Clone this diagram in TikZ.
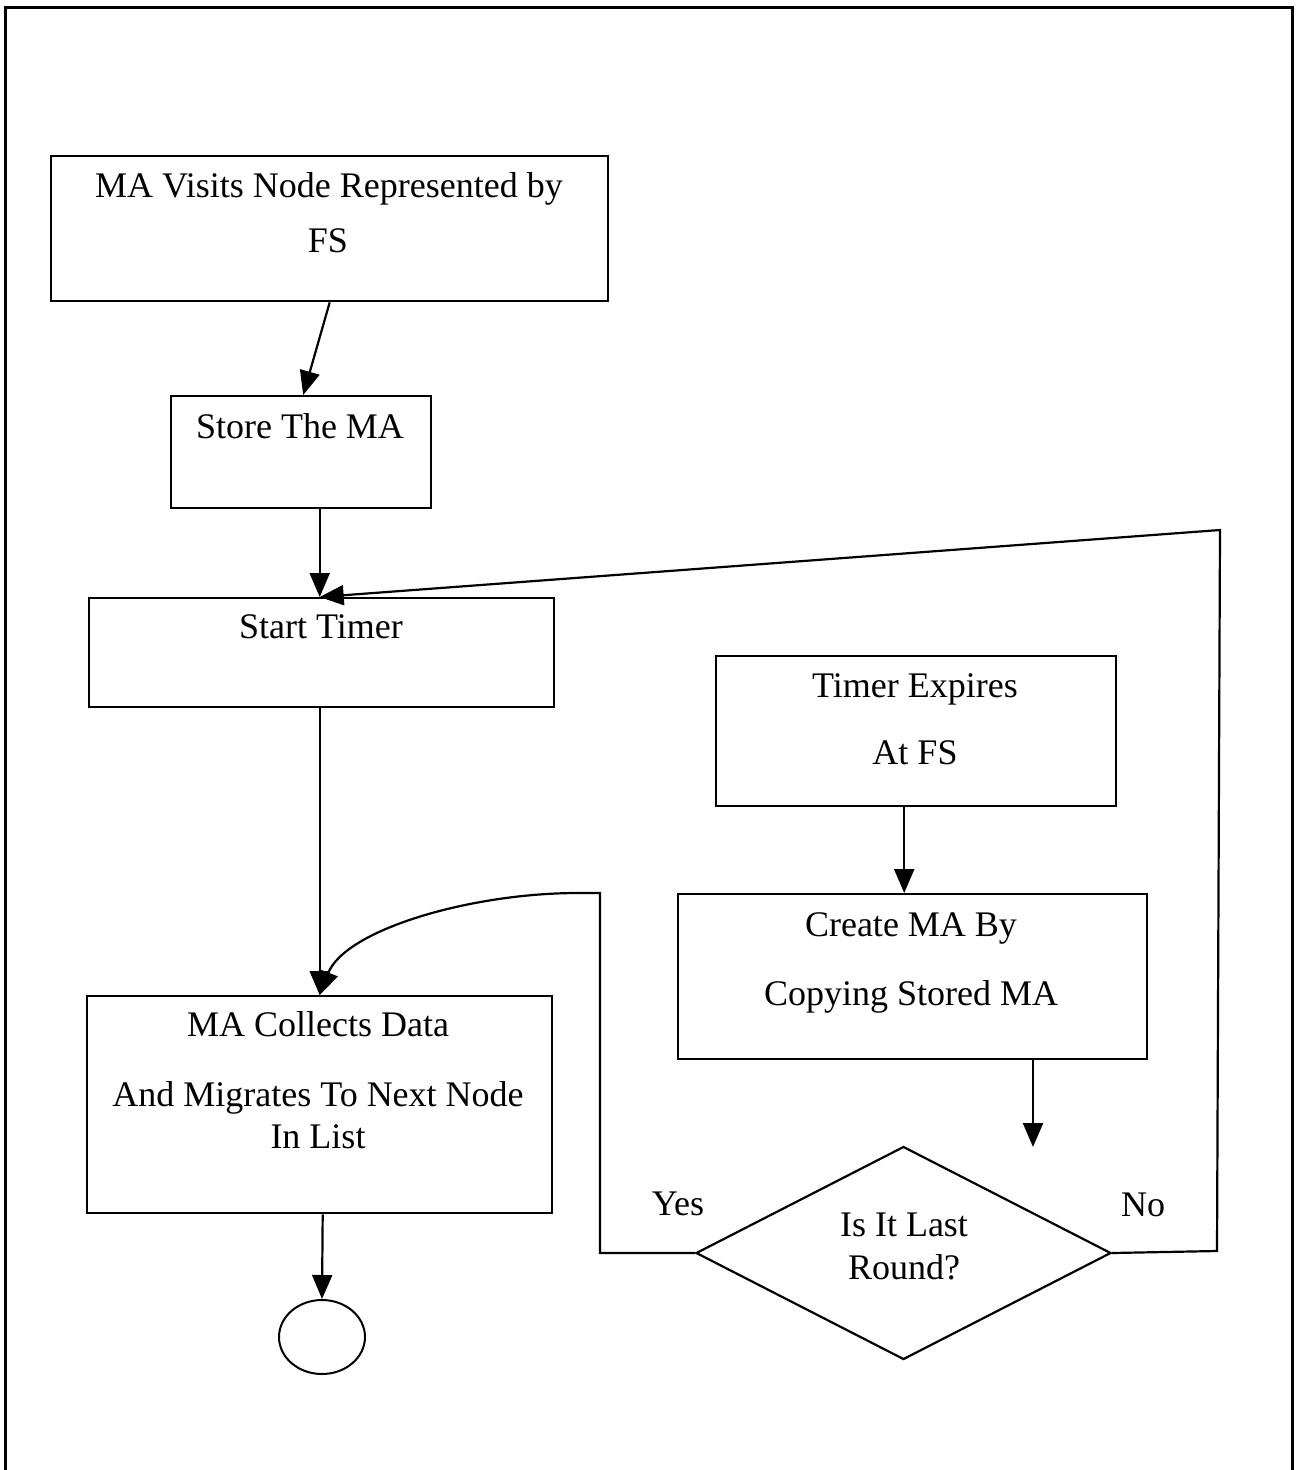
\documentclass[tikz,border=0pt]{standalone}
\usepackage{fontspec}
\setmainfont{Liberation Serif}
\usetikzlibrary{arrows.meta,shapes.geometric,calc}
\begin{document}
\begin{tikzpicture}[x=1pt,y=-1pt,
  every node/.style={font=\fontsize{36}{40}\selectfont},
  frameline/.style={line width=3pt},
  box/.style={draw,line width=2.4pt,rectangle,inner sep=0pt,anchor=north west},
  txt/.style={anchor=base,inner sep=0pt},
  link/.style={line width=2.2pt},
  arr/.style={link,-{Triangle[length=24pt,width=20pt]}},
]
\useasboundingbox (0,0) rectangle (1297,1470);
% page frame, open at the bottom
\draw[frameline] (5,1470) -- (5,7) -- (1292,7) -- (1292,1470);

% boxes
\node[box,minimum width=557,minimum height=145] (b1) at (50,155) {};
\node[box,minimum width=260,minimum height=112] (b2) at (170,395) {};
\node[box,minimum width=465,minimum height=109] (b3) at (88,597) {};
\node[box,minimum width=465,minimum height=217] (b4) at (86,995) {};
\node[box,minimum width=400,minimum height=150] (b5) at (715,655) {};
\node[box,minimum width=469,minimum height=165] (b6) at (677,893) {};
\node[draw,line width=2.2pt,diamond,inner sep=0pt,minimum width=415,minimum height=213,aspect=1.95] (dia) at (903.5,1253) {};
\node[draw,line width=2pt,ellipse,inner sep=0pt,minimum width=86,minimum height=74] (ell) at (322,1337) {};

% texts
\node[txt] (t1a) at (329,197) {MA Visits Node Represented by};
\node[txt] (t1b) at (328,252) {FS};
\node[txt] (t2) at (300,438) {Store The MA};
\node[txt] (t3) at (321,638) {Start Timer};
\node[txt] (t4a) at (318,1036) {MA Collects Data};
\node[txt] (t4b) at (318,1106) {And Migrates To Next Node};
\node[txt] (t4c) at (318,1148) {In List};
\node[txt] (t5a) at (915,697) {Timer Expires};
\node[txt] (t5b) at (915,764) {At FS};
\node[txt] (t6a) at (911,936) {Create MA By};
\node[txt] (t6b) at (911,1005) {Copying Stored MA};
\node[txt] (t7a) at (904,1236) {Is It Last};
\node[txt] (t7b) at (904,1279) {Round?};
\node[txt] (yes) at (678,1215) {Yes};
\node[txt] (no) at (1143,1216) {No};

% bend points
\coordinate (yesup) at (600,893);
\coordinate (yesend) at (578,893);
\coordinate (noright) at (1217,1251);
\coordinate (noup) at (1220,530);
\coordinate (dangle) at (1033,1147);

% connectors
\draw[arr] (b1.south) -- ([xshift=2pt]b2.north);
\draw[arr] ([xshift=-2pt]b3.north |- b2.south) -- ([xshift=-2pt]b3.north);
\draw[arr] ([xshift=-2pt]b3.south) -- (b4.north);
\draw[arr] ([xshift=3pt]b4.south) -- (ell.north);
\draw[arr] ([xshift=-12pt]b5.south) -- ([xshift=-12pt]b5.south |- b6.north);
\draw[arr] (dangle |- b6.south) -- (dangle);
\draw[arr] (dia.west) -| (yesup) -- (yesend)
  .. controls (470,893) and (345,930) .. (b4.north);
\draw[arr] (dia.east) -- (noright) -- (noup) -- ([xshift=-2pt]b3.north);
\end{tikzpicture}
\end{document}
